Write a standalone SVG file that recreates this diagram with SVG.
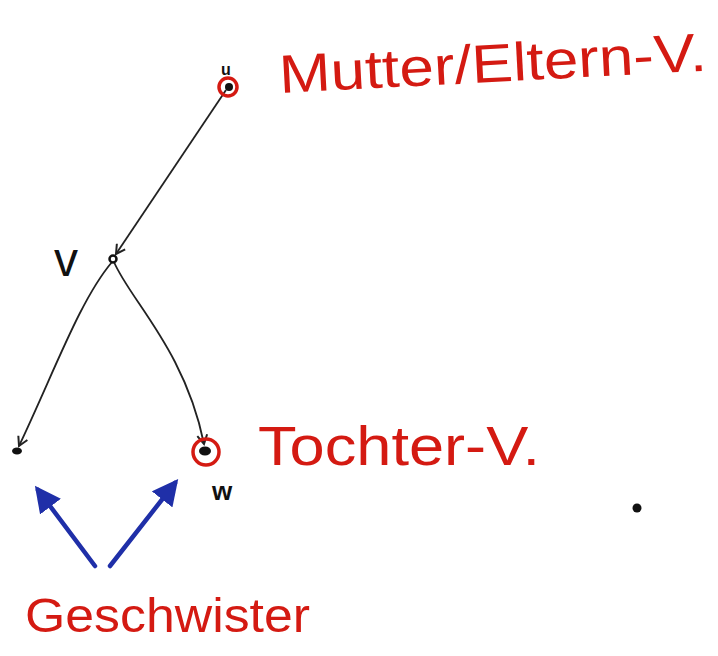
<svg xmlns="http://www.w3.org/2000/svg" width="718" height="656" viewBox="0 0 718 656">
<style>
.red{fill:#d41a12;font-family:"Liberation Sans","DejaVu Sans",sans-serif}
.blk{fill:#111;font-family:"Liberation Sans","DejaVu Sans",sans-serif}
.ring{fill:none;stroke:#d41a12;stroke-width:3.5}
.edge{fill:none;stroke:#222;stroke-width:1.8}
.blue{fill:none;stroke:#1f2fa8;stroke-width:4.5;stroke-linecap:round}
</style>
<defs>
<marker id="open" viewBox="0 0 12 12" refX="10" refY="6" markerWidth="12" markerHeight="12" markerUnits="userSpaceOnUse" orient="auto">
<path d="M1,1 L10,6 L1,11" fill="none" stroke="#222" stroke-width="2"/>
</marker>
<marker id="bluehead" viewBox="0 0 10 10" refX="8" refY="5" markerWidth="26" markerHeight="26" markerUnits="userSpaceOnUse" orient="auto">
<path d="M0,0 L10,5 L0,10 Z" fill="#1f2fa8"/>
</marker>
</defs>
<rect width="718" height="656" fill="#ffffff"/>
<g id="connectors">
<path class="edge" d="M226,90 L116,254" marker-end="url(#open)"/>
<path class="edge" d="M112,262 C80,300 55,370 19,446" marker-end="url(#open)"/>
<path class="edge" d="M114,262 C130,300 185,350 204,444" marker-end="url(#open)"/>
<path class="blue" d="M95,566 L38,490" marker-end="url(#bluehead)"/>
<path class="blue" d="M110,566 L175,483" marker-end="url(#bluehead)"/>
</g>
<g id="node-u">
<circle class="ring" cx="228" cy="87" r="9"/>
<circle cx="229" cy="87" r="4" fill="#111"/>
<text class="blk" x="226" y="75" font-size="16" font-weight="bold" text-anchor="middle">u</text>
<text class="red" x="280" y="93" font-size="54" textLength="428" lengthAdjust="spacingAndGlyphs" transform="rotate(-3 280 93)">Mutter/Eltern-V.</text>
</g>
<g id="node-v">
<circle cx="113" cy="259" r="3.5" fill="#fff" stroke="#111" stroke-width="2.5"/>
<text class="blk" x="66" y="276" font-size="48" text-anchor="middle">v</text>
</g>
<g id="node-left">
<ellipse cx="17" cy="451" rx="5" ry="3.5" fill="#111"/>
</g>
<g id="node-w">
<circle class="ring" cx="206" cy="452" r="13"/>
<ellipse cx="205" cy="451" rx="6" ry="4.5" fill="#111"/>
<text class="blk" x="222" y="500" font-size="26" font-weight="bold" text-anchor="middle">w</text>
<text class="red" x="258" y="465" font-size="56" textLength="282" lengthAdjust="spacingAndGlyphs">Tochter-V.</text>
</g>
<g id="siblings">
<text class="red" x="25" y="632" font-size="48" textLength="285" lengthAdjust="spacingAndGlyphs">Geschwister</text>
</g>
<circle cx="637" cy="508" r="4.5" fill="#111"/>
</svg>
